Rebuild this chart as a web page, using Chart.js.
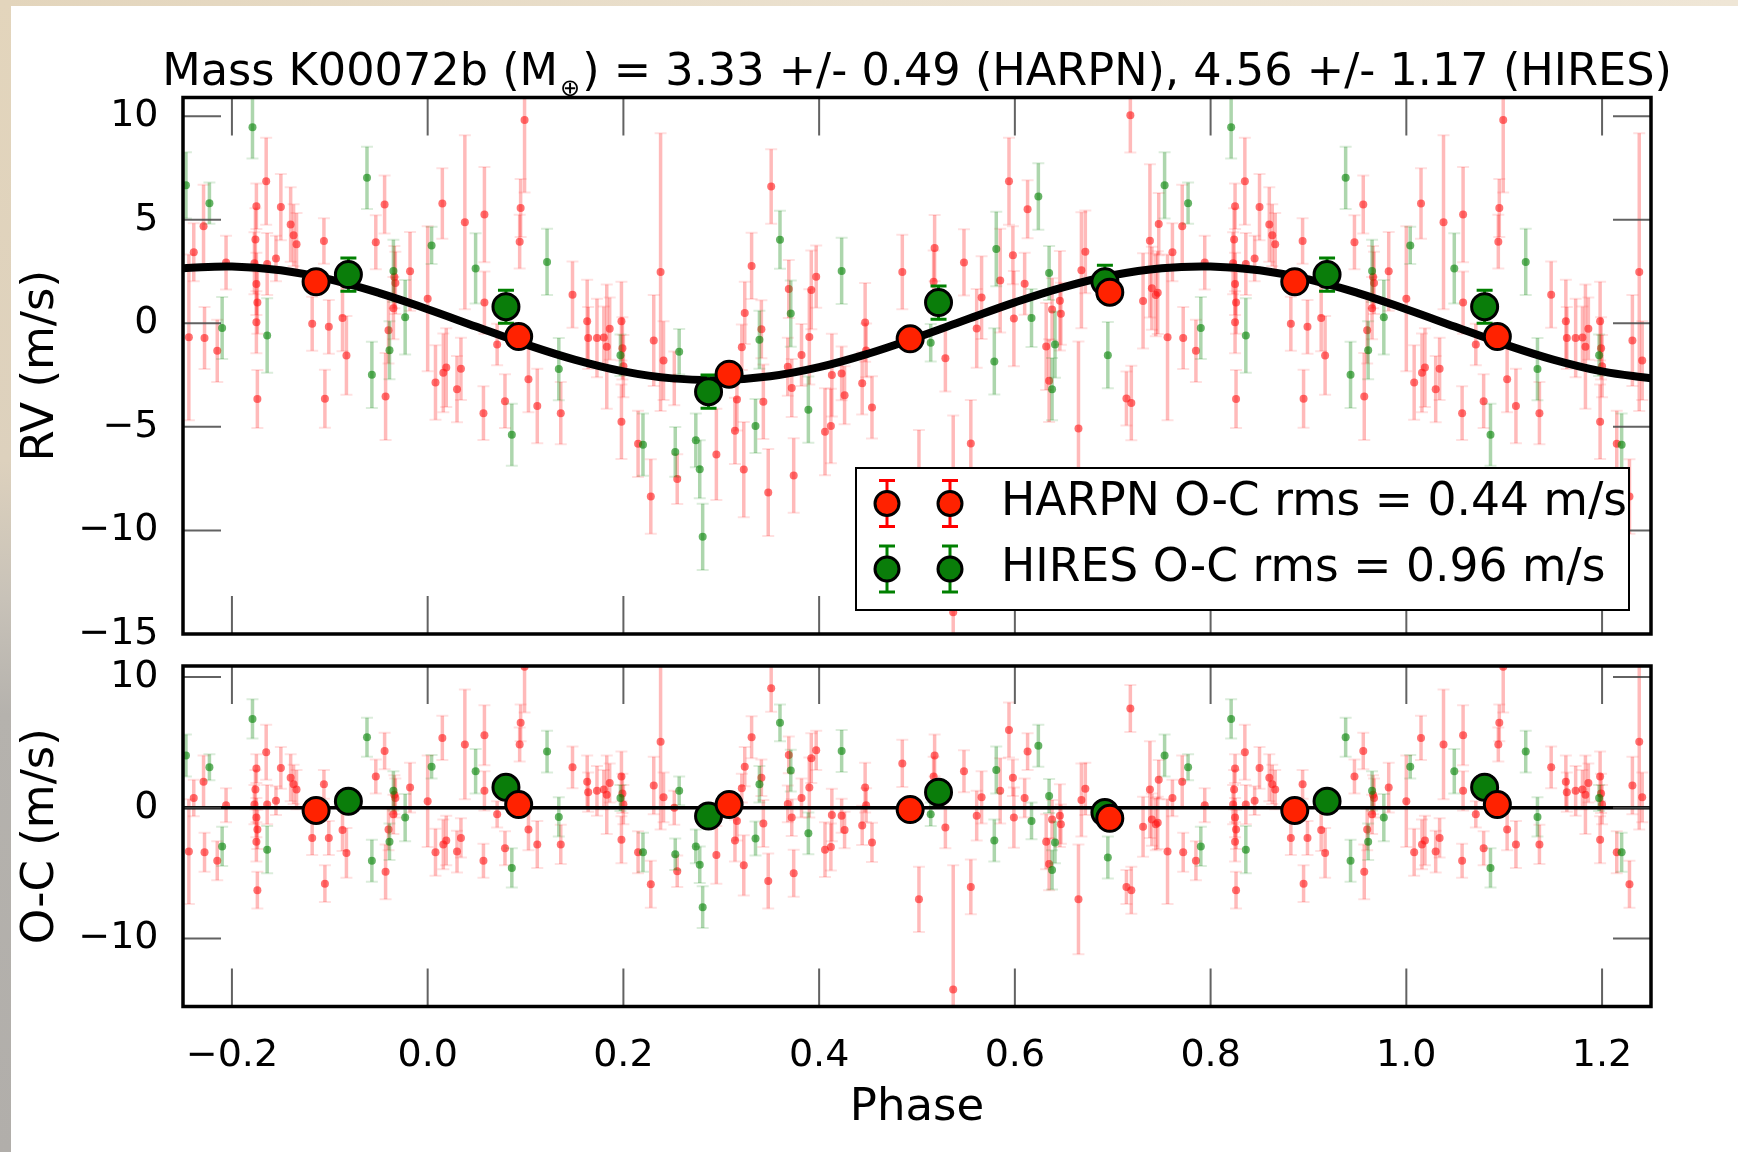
<!DOCTYPE html>
<html>
<head>
<meta charset="utf-8">
<title>K00072b phase-folded RV</title>
<script src="https://cdn.jsdelivr.net/npm/chart.js@4.4.1/dist/chart.umd.min.js"></script>
<style>
    html, body { margin: 0; padding: 0; background: #fff; }
    #page { position: relative; width: 1738px; height: 1152px; overflow: hidden; background: #fff; }
    #edgeTop { position: absolute; left: 0; top: 0; width: 1738px; height: 6px;
        background: linear-gradient(90deg, #e3d5bc 0%, #ebe1cf 50%, #efe6d6 100%); }
    #edgeLeft { position: absolute; left: 0; top: 0; width: 11px; height: 1152px;
        background: linear-gradient(180deg, #e3d5bc 0%, #ddd1bd 40%, #c8c2b8 52%, #b5b2ad 62%, #b1aeaa 100%); }
    canvas { position: absolute; left: 0; }
    #rvChart { top: 0; }
    #ocChart { top: 650px; }
</style>
</head>
<body>
<div id="page">
    <div id="edgeTop"></div>
    <div id="edgeLeft"></div>
    <canvas id="rvChart" width="1738" height="650"></canvas>
    <canvas id="ocChart" width="1738" height="502"></canvas>
</div>
<script>
// HARPN measurements folded on the orbital phase: phase, RV, O-C residual, sigma (m/s)
const harpnPhase = [0.000, 0.008, 0.015, 0.016, 0.019, 0.030, 0.034, 0.038, 0.057, 0.058,
    0.058, 0.071, 0.079, 0.094, 0.095, 0.099, 0.103, 0.112, 0.136, 0.148,
    0.163, 0.164, 0.173, 0.180, 0.183, 0.186, 0.198, 0.198, 0.199, 0.200,
    0.215, 0.228, 0.231, 0.238, 0.241, 0.252, 0.255, 0.295, 0.314, 0.316,
    0.321, 0.323, 0.324, 0.331, 0.341, 0.343, 0.348, 0.351, 0.368, 0.369,
    0.372, 0.374, 0.382, 0.390, 0.392, 0.397, 0.406, 0.412, 0.413, 0.423,
    0.426, 0.444, 0.447, 0.448, 0.454, 0.485, 0.502, 0.517, 0.518, 0.529,
    0.537, 0.548, 0.555, 0.561, 0.566, 0.585, 0.594, 0.598, 0.599, 0.610,
    0.613, 0.632, 0.635, 0.638, 0.646, 0.647, 0.665, 0.668, 0.672, 0.714,
    0.718, 0.719, 0.731, 0.738, 0.740, 0.744, 0.746, 0.747, 0.756, 0.761,
    0.771, 0.772, 0.785, 0.794, 0.823, 0.824, 0.825, 0.825, 0.826, 0.825,
    0.826, 0.835, 0.836, 0.845, 0.850, 0.860, 0.863, 0.866, 0.882, 0.894,
    0.895, 0.899, 0.913, 0.917, 0.947, 0.956, 0.957, 0.960, 0.965, 0.966,
    0.967, 0.982];
const harpnRv = [1.18, -2.86, 5.78, -2.39, -2.14, -3.18, -2.2, 4.88, -4.34, 5.25,
    1.0, -1.02, -3.76, 3.94, 5.57, 9.81, -2.7, -3.99, -4.34, 1.38,
    0.1, -0.71, -0.71, -0.69, -1.13, -0.26, 0.1, -4.75, -1.21, -2.07,
    -5.82, -8.36, -0.83, 2.47, -1.8, -2.66, -7.52, -6.33, -5.19, -3.68,
    -1.16, -7.06, 0.5, 2.77, -0.29, -3.79, -8.17, 6.6, -2.1, 1.66,
    -3.12, -7.35, -1.53, -0.66, 1.61, 2.25, -5.24, -4.96, -2.5, -2.42,
    -3.48, -2.9, 0.04, -1.31, -4.06, 2.48, -7.65, 2.01, 3.63, -1.69,
    -13.95, 2.94, -5.8, -0.25, 1.24, 2.06, 6.86, 3.28, 0.23, 1.91,
    5.5, -1.12, -2.77, 0.67, 1.09, 0.46, -5.08, 2.56, 3.45, -3.63,
    10.04, -3.85, 1.08, 3.98, 1.69, 1.37, 1.48, 4.79, -0.68, 3.43,
    4.69, -0.71, -1.33, 2.93, 2.9, 4.05, 5.65, 1.9, 1.0, 0.05,
    -3.65, 6.86, 2.86, 3.13, 5.61, 4.77, 4.25, 3.82, -0.02, 3.97,
    -3.64, -0.17, 0.25, -1.55, 3.91, 5.73, -3.54, -0.34, 0.73, 2.23,
    1.95, 2.51];
const harpnOc = [0.5, -3.4, 5.35, -2.8, -2.5, -3.35, -2.3, 4.85, -4.05, 5.55,
    1.3, -0.5, -3.1, 4.85, 6.5, 10.8, -1.65, -2.8, -2.8, 3.1,
    2.0, 1.2, 1.3, 1.4, 1.0, 1.9, 2.4, -2.45, 1.1, 0.25,
    -3.4, -5.85, 1.7, 5.05, 0.8, 0.0, -4.85, -3.6, -2.5, -1.0,
    1.5, -4.4, 3.15, 5.4, 2.3, -1.2, -5.6, 9.15, 0.3, 4.05,
    -0.75, -5.0, 0.75, 1.55, 3.8, 4.4, -3.2, -3.0, -0.55, -0.6,
    -1.7, -1.35, 1.55, 0.2, -2.65, 3.4, -7.0, 2.4, 4.0, -1.5,
    -13.9, 2.8, -6.05, -0.6, 0.8, 1.3, 5.95, 2.3, -0.75, 0.75,
    4.3, -2.6, -4.3, -0.9, -0.6, -1.25, -7.0, 0.6, 1.45, -6.05,
    7.6, -6.3, -1.45, 1.4, -0.9, -1.25, -1.15, 2.15, -3.35, 0.75,
    2.0, -3.4, -4.05, 0.2, 0.25, 1.4, 3.0, -0.75, -1.65, -2.6,
    -6.3, 4.25, 0.25, 0.55, 3.05, 2.3, 1.8, 1.4, -2.3, 1.8,
    -5.8, -2.3, -1.7, -3.45, 2.4, 4.35, -4.9, -1.65, -0.5, 1.0,
    0.75, 1.55];
const harpnErr = [3.5, 1.8, 1.7, 1.9, 1.9, 1.6, 1.5, 4.2, 1.3, 2.3,
    1.5, 1.0, 1.3, 1.3, 1.4, 3.5, 1.6, 1.8, 1.5, 1.6,
    2.0, 1.5, 1.9, 1.5, 3.0, 1.5, 1.9, 1.8, 1.5, 1.5,
    1.6, 1.8, 2.2, 6.7, 1.9, 1.3, 1.2, 2.2, 1.6, 1.5,
    1.1, 2.3, 1.5, 1.6, 1.4, 1.8, 2.1, 1.8, 1.4, 1.4,
    1.4, 1.8, 1.5, 2.3, 1.9, 1.5, 2.1, 1.8, 2.0, 1.3,
    1.4, 1.5, 1.9, 1.3, 1.5, 1.8, 2.5, 1.5, 1.6, 1.6,
    9.5, 1.6, 2.1, 1.9, 2.0, 2.5, 2.1, 1.4, 2.3, 1.5,
    1.4, 2.1, 2.0, 1.5, 2.4, 1.5, 4.2, 2.8, 2.0, 1.3,
    1.8, 1.8, 2.3, 3.7, 2.0, 2.0, 2.0, 1.5, 4.0, 1.4,
    2.0, 1.5, 1.5, 1.3, 1.5, 1.5, 1.1, 1.5, 1.5, 1.5,
    1.4, 2.1, 1.5, 1.1, 1.6, 1.8, 1.5, 1.5, 1.3, 1.1,
    1.4, 1.3, 1.6, 1.9, 1.3, 1.4, 2.1, 1.6, 1.5, 1.5,
    1.5, 1.9];

// HIRES measurements
const hiresPhase = [0.004, 0.049, 0.086, 0.122, 0.134, 0.197, 0.220, 0.253, 0.257, 0.274,
    0.278, 0.281, 0.335, 0.339, 0.360, 0.371, 0.389, 0.423, 0.514, 0.579,
    0.581, 0.617, 0.624, 0.635, 0.638, 0.641, 0.695, 0.753, 0.777, 0.790,
    0.821, 0.836, 0.938, 0.943, 0.961, 0.965, 0.977];
const hiresRv = [3.76, 2.65, -5.38, 2.96, -2.21, -1.54, -5.86, -6.21, -1.37, -5.65,
    -7.05, -10.31, -4.96, -0.8, 4.03, 0.47, -4.17, 2.53, -0.94, -1.84,
    3.59, 0.26, 6.12, 2.43, -3.18, -1.03, -1.54, 6.66, 5.8, -0.23,
    9.46, -0.59, 7.02, -2.49, -1.3, 2.53, 0.29];
const hiresOc = [3.15, 2.8, -4.6, 4.3, -0.7, 0.75, -3.4, -3.55, 1.3, -2.95,
    -4.35, -7.6, -2.35, 1.8, 6.5, 2.85, -1.95, 4.35, -0.5, -2.5,
    2.9, -1.0, 4.75, 0.9, -4.75, -2.65, -3.8, 4.0, 3.1, -2.95,
    6.8, -3.2, 5.4, -4.05, -2.6, 1.3, -0.75];
const hiresErr = [0.9, 1.7, 1.5, 1.6, 1.5, 1.0, 1.5, 1.2, 1.1, 1.3,
    1.4, 1.6, 1.3, 1.4, 1.4, 1.6, 1.6, 1.6, 0.9, 1.6,
    1.8, 1.4, 1.6, 1.3, 1.5, 1.6, 1.6, 1.6, 1.0, 1.5,
    1.5, 1.8, 1.5, 1.6, 1.4, 1.5, 1.8];

// phase-binned averages
const binHarpnPhase = [0.093, 0.308, 0.493, 0.697, 0.886];
const binHarpnRv = [-0.64, -2.46, -0.75, 1.5, 2.0];
const binHarpnOc = [0.25, 0.25, -0.13, -0.8, -0.2];
const binHarpnErr = [0.45, 0.45, 0.45, 0.45, 0.45];
const binHiresPhase = [0.080, 0.287, 0.522, 0.692, 0.919];
const binHiresRv = [0.8, -3.3, 1.0, 2.0, 2.35];
const binHiresOc = [1.57, -0.63, 1.2, -0.35, 0.5];
const binHiresErr = [0.8, 0.8, 0.8, 0.8, 0.8];

// circular orbit model
const modelPhase = [-0.25, -0.2, -0.15, -0.1, -0.05, 0.0, 0.05, 0.1, 0.15, 0.2,
    0.25, 0.3, 0.35, 0.4, 0.45, 0.5, 0.55, 0.6, 0.65, 0.7,
    0.75, 0.8, 0.85, 0.9, 0.95, 1.0, 1.05, 1.1, 1.15, 1.2, 1.25];
const modelRv = [2.66, 2.74, 2.56, 2.12, 1.47, 0.68, -0.17, -1.01, -1.75, -2.32,
    -2.66, -2.74, -2.56, -2.12, -1.47, -0.68, 0.17, 1.01, 1.75, 2.32,
    2.66, 2.74, 2.56, 2.12, 1.47, 0.68, -0.17, -1.01, -1.75, -2.32, -2.66];

const titleParts = ['Mass K00072b (M', '\u2295', ') = 3.33 +/- 0.49 (HARPN), 4.56 +/- 1.17 (HIRES)'];
const legendLabels = ['HARPN O-C rms = 0.44 m/s', 'HIRES O-C rms = 0.96 m/s'];

const X_MIN = -0.25, X_MAX = 1.25;
const RED = '#ff2200', GREEN = '#0a7d0a';
const FONT = "'DejaVu Sans'";

Chart.defaults.font.family = FONT;
Chart.defaults.color = '#000';

// show each point at phase-1, phase and phase+1 when it falls inside the plotted window
function fold(phase, vals, errs) {
    const pts = [], e = [];
    phase.forEach((p, i) => {
        [p - 1, p, p + 1].forEach(q => {
            if (q >= X_MIN && q <= X_MAX) {
                pts.push({x: q, y: vals[i]});
                e.push(errs[i]);
            }
        });
    });
    return {pts, e};
}

function minus(s) {
    return String(s).replace('-', '\u2212');
}

// vertical error bars with caps, drawn under their markers
const errorBars = {
    id: 'errorBars',
    beforeDatasetDraw(chart, args) {
        const ds = chart.data.datasets[args.index];
        if (!ds.errs) return;
        const {ctx, chartArea: ca, scales: {x, y}} = chart;
        ctx.save();
        ctx.beginPath();
        ctx.rect(ca.left, ca.top, ca.width, ca.height);
        ctx.clip();
        ds.data.forEach((pt, i) => {
            const px = x.getPixelForValue(pt.x);
            const lo = y.getPixelForValue(pt.y - ds.errs[i]), hi = y.getPixelForValue(pt.y + ds.errs[i]);
            const c = ds.capHalf;
            ctx.strokeStyle = ds.errColor;
            ctx.lineWidth = ds.errWidth;
            ctx.beginPath();
            ctx.moveTo(px, lo); ctx.lineTo(px, hi);
            ctx.stroke();
            ctx.strokeStyle = ds.capColor || ds.errColor;
            ctx.lineWidth = ds.capWidth || ds.errWidth;
            ctx.beginPath();
            ctx.moveTo(px - c, lo); ctx.lineTo(px + c, lo);
            ctx.moveTo(px - c, hi); ctx.lineTo(px + c, hi);
            ctx.stroke();
        });
        ctx.restore();
    }
};

// inward ticks on all four sides plus the black frame
const TICK = 38;
const frame = {
    id: 'frame',
    afterDatasetsDraw(chart) {
        const {ctx, chartArea: ca, scales: {x, y}} = chart;
        ctx.save();
        ctx.strokeStyle = 'rgba(70,70,70,0.85)';
        ctx.lineWidth = 2;
        ctx.beginPath();
        x.ticks.forEach(t => {
            const px = x.getPixelForValue(t.value);
            ctx.moveTo(px, ca.top); ctx.lineTo(px, ca.top + TICK);
            ctx.moveTo(px, ca.bottom); ctx.lineTo(px, ca.bottom - TICK);
        });
        y.ticks.forEach(t => {
            const py = y.getPixelForValue(t.value);
            ctx.moveTo(ca.left, py); ctx.lineTo(ca.left + TICK, py);
            ctx.moveTo(ca.right, py); ctx.lineTo(ca.right - TICK, py);
        });
        ctx.stroke();
        ctx.strokeStyle = '#000';
        ctx.lineWidth = 3.5;
        ctx.strokeRect(ca.left, ca.top, ca.width, ca.height);
        ctx.restore();
    }
};

const massTitle = {
    id: 'massTitle',
    afterDraw(chart) {
        const {ctx, chartArea: ca} = chart;
        const big = '44.6px ' + FONT, small = '24px ' + FONT;
        ctx.save();
        ctx.font = big;
        const w1 = ctx.measureText(titleParts[0]).width, w3 = ctx.measureText(titleParts[2]).width;
        ctx.font = small;
        const w2 = ctx.measureText(titleParts[1]).width;
        const gap = 2, base = 85;
        let x = (ca.left + ca.right) / 2 - (w1 + w2 + w3 + 2 * gap) / 2;
        ctx.fillStyle = '#000';
        ctx.textAlign = 'left';
        ctx.textBaseline = 'alphabetic';
        ctx.font = big;
        ctx.fillText(titleParts[0], x, base);
        x += w1 + gap;
        ctx.font = small;
        ctx.fillText(titleParts[1], x, base + 11);
        x += w2 + gap;
        ctx.font = big;
        ctx.fillText(titleParts[2], x, base);
        ctx.restore();
    }
};

const legendBox = {
    id: 'legendBox',
    afterDraw(chart) {
        const {ctx, chartArea: ca} = chart;
        const w = 773, h = 142;
        const left = ca.right - 22 - w, top = ca.bottom - 24 - h;
        ctx.save();
        ctx.fillStyle = '#fff';
        ctx.fillRect(left, top, w, h);
        ctx.strokeStyle = '#000';
        ctx.lineWidth = 2;
        ctx.strokeRect(left, top, w, h);
        const rows = [{y: top + 35.5, fill: RED, bar: '#ff0000'}, {y: top + 101, fill: GREEN, bar: '#008000'}];
        rows.forEach((r, i) => {
            [left + 31, left + 94].forEach(mx => {
                ctx.strokeStyle = r.bar;
                ctx.lineWidth = 3;
                ctx.beginPath();
                ctx.moveTo(mx, r.y - 23); ctx.lineTo(mx, r.y + 23);
                ctx.moveTo(mx - 8, r.y - 23); ctx.lineTo(mx + 8, r.y - 23);
                ctx.moveTo(mx - 8, r.y + 23); ctx.lineTo(mx + 8, r.y + 23);
                ctx.stroke();
                ctx.beginPath();
                ctx.arc(mx, r.y, 12, 0, 2 * Math.PI);
                ctx.fillStyle = r.fill;
                ctx.fill();
                ctx.strokeStyle = '#000';
                ctx.stroke();
            });
            ctx.fillStyle = '#000';
            ctx.font = '45.6px ' + FONT;
            ctx.textAlign = 'left';
            ctx.textBaseline = 'middle';
            ctx.fillText(legendLabels[i], left + 145, r.y);
        });
        ctx.restore();
    }
};

function dataSets(useRv) {
    const h = fold(harpnPhase, useRv ? harpnRv : harpnOc, harpnErr);
    const g = fold(hiresPhase, useRv ? hiresRv : hiresOc, hiresErr);
    const bh = fold(binHarpnPhase, useRv ? binHarpnRv : binHarpnOc, binHarpnErr);
    const bg = fold(binHiresPhase, useRv ? binHiresRv : binHiresOc, binHiresErr);
    const line = useRv
        ? modelPhase.map((p, i) => ({x: p, y: modelRv[i]}))
        : [{x: X_MIN, y: 0}, {x: X_MAX, y: 0}];
    return [
        {label: 'HARPN binned', data: bh.pts, errs: bh.e, errColor: '#ff0000', errWidth: 3, capHalf: 8,
            pointRadius: 13, pointBackgroundColor: RED, pointBorderColor: '#000', pointBorderWidth: 3, order: 0},
        {label: 'HIRES binned', data: bg.pts, errs: bg.e, errColor: '#008000', errWidth: 3, capHalf: 8,
            pointRadius: 13, pointBackgroundColor: GREEN, pointBorderColor: '#000', pointBorderWidth: 3, order: 1},
        {label: 'model', data: line, showLine: true, tension: useRv ? 0.4 : 0, borderColor: '#000',
            borderWidth: useRv ? 8 : 3.5, pointRadius: 0, order: 2},
        {label: 'HIRES', data: g.pts, errs: g.e, errColor: 'rgba(0,128,0,0.32)', errWidth: 3.5,
            capColor: 'rgba(0,128,0,0.14)', capWidth: 2, capHalf: 6,
            pointRadius: 4, pointBackgroundColor: 'rgba(0,128,0,0.6)', pointBorderWidth: 0, order: 3},
        {label: 'HARPN', data: h.pts, errs: h.e, errColor: 'rgba(255,0,0,0.27)', errWidth: 3.5,
            capColor: 'rgba(255,0,0,0.12)', capWidth: 2, capHalf: 6,
            pointRadius: 4, pointBackgroundColor: 'rgba(255,20,20,0.6)', pointBorderWidth: 0, order: 4}
    ];
}

function makeChart(id, o) {
    return new Chart(document.getElementById(id), {
        type: 'scatter',
        data: {datasets: dataSets(o.useRv)},
        options: {
            responsive: false,
            animation: false,
            devicePixelRatio: 1,
            events: [],
            layout: {padding: {top: o.padTop, right: 87, left: 0, bottom: 0}},
            plugins: {legend: {display: false}, tooltip: {enabled: false}},
            scales: {
                x: {
                    type: 'linear', min: X_MIN, max: X_MAX,
                    grid: {display: false, drawTicks: false}, border: {display: false},
                    ticks: {display: o.xLabels, stepSize: 0.2, includeBounds: false, padding: 27,
                        font: {size: 38}, callback: v => minus(v.toFixed(1))},
                    title: {display: o.xLabels, text: 'Phase', font: {size: 45}, padding: {top: 0, bottom: 17}},
                    afterFit: s => { s.height = o.xHeight; s.paddingLeft = 0; s.paddingRight = 0; }
                },
                y: {
                    type: 'linear', min: o.yMin, max: o.yMax,
                    grid: {display: false, drawTicks: false}, border: {display: false},
                    ticks: {stepSize: o.yStep, includeBounds: false, padding: 24.5,
                        font: {size: 38}, callback: v => minus(v)},
                    title: {display: true, text: o.yTitle, font: {size: 45}, padding: {top: 14, bottom: 0}},
                    afterFit: s => { s.width = 183; s.paddingTop = 0; s.paddingBottom = 0; }
                }
            }
        },
        plugins: [errorBars, frame].concat(o.extra)
    });
}

// upper panel: plot box 97.5..637, lower panel: 663..1006.5 (page pixels)
makeChart('rvChart', {useRv: true, padTop: 97.5, xHeight: 13, xLabels: false,
    yMin: -15, yMax: 10.9, yStep: 5, yTitle: 'RV (m/s)', extra: [massTitle, legendBox]});
makeChart('ocChart', {useRv: false, padTop: 13, xHeight: 145.5, xLabels: true,
    yMin: -15.2, yMax: 10.85, yStep: 10, yTitle: 'O-C (m/s)', extra: []});
</script>
</body>
</html>
